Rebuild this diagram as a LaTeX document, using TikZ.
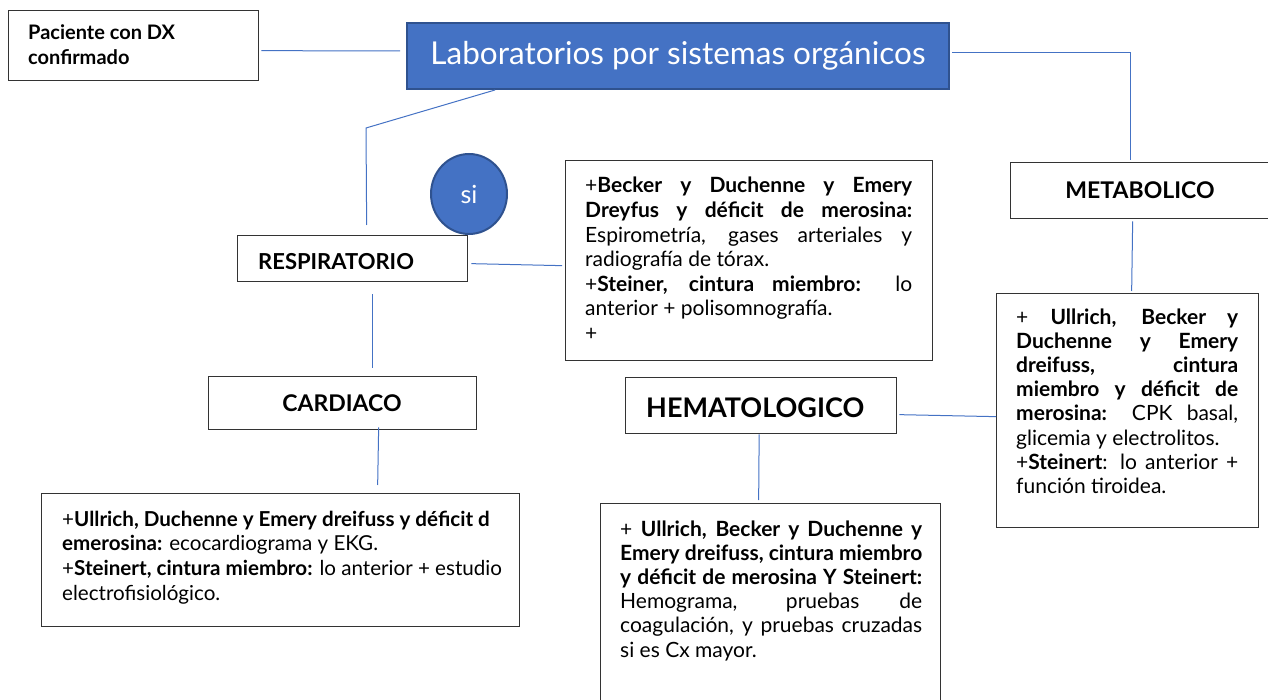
\documentclass[tikz,border=0pt]{standalone}
\usepackage{fontspec}
\usetikzlibrary{shapes.geometric}
\setmainfont{Lato}
\definecolor{lineblue}{HTML}{4472C4}
\definecolor{fillblue}{HTML}{4472C4}
\definecolor{edgeblue}{HTML}{2F528F}
\definecolor{boxedge}{HTML}{333333}
\begin{document}
\begin{tikzpicture}[x=1pt,y=-1pt,
  box/.style={draw=boxedge,line width=1.3pt,rectangle,inner sep=0pt,anchor=north west,fill=white},
  bluebox/.style={draw=edgeblue,line width=2pt,fill=fillblue,rectangle,inner sep=0pt,anchor=north west},
  conn/.style={draw=lineblue,line width=1pt},
  lbl/.style={inner sep=0pt,font=\bfseries},
  body/.style={inner sep=0pt,anchor=base west}
]
\useasboundingbox (0,0) rectangle (1268,700);
% boxes
\node[box,minimum width=250pt,minimum height=70pt] (pac) at (8,10) {};
\node[body] (pactxt) at (28,40) {\parbox[t]{220pt}{\fontsize{20}{25}\selectfont\bfseries Paciente con DX\\ confirmado}};
\node[bluebox,minimum width=542pt,minimum height=66pt] (title) at (406,22) {};
\node[inner sep=0pt,text=white,font=\fontsize{31.5}{34}\selectfont] (titletxt) at (title.center) {Laboratorios por sistemas orgánicos};
\node[draw=edgeblue,line width=2pt,fill=fillblue,ellipse,minimum width=76pt,minimum height=80pt,inner sep=0pt,text=white,font=\fontsize{25}{28}\selectfont] (si) at (469,194) {si};
% respiratorio
\node[box,minimum width=230pt,minimum height=46pt] (resp) at (237,235) {};
\node[lbl,anchor=base west,font=\fontsize{22}{26}\selectfont\bfseries] (resptxt) at (258,270) {RESPIRATORIO};
\node[box,minimum width=367pt,minimum height=200pt] (rbox) at (565,160) {};
\node[body] (rboxtxt) at (585,193) {\parbox[t]{327pt}{\fontsize{21}{24.6}\selectfont
+\textbf{Becker y Duchenne y Emery}\linebreak
\textbf{Dreyfus y déficit de merosina:}\linebreak
Espirometría, gases arteriales y\linebreak
radiografía de tórax.\\
+\textbf{Steiner, cintura miembro:} lo\linebreak
anterior + polisomnografía.\\
+}};
% metabolico
\node[box,minimum width=262pt,minimum height=56pt] (metab) at (1010,162) {};
\node[lbl,anchor=base,font=\fontsize{23}{26}\selectfont\bfseries] (metabtxt) at (1140,199) {METABOLICO};
\node[box,minimum width=262pt,minimum height=234pt] (mbox) at (996,293) {};
\node[body] (mboxtxt) at (1016,324) {\parbox[t]{222pt}{\fontsize{21}{24.2}\selectfont
+ \textbf{Ullrich, Becker y}\linebreak
\textbf{Duchenne y Emery}\linebreak
\textbf{dreifuss, cintura}\linebreak
\textbf{miembro y déficit de}\linebreak
\textbf{merosina:} CPK basal,\linebreak
glicemia y electrolitos.\\
+\textbf{Steinert}: lo anterior +\linebreak
función tiroidea.}};
% cardiaco
\node[box,minimum width=268pt,minimum height=53pt] (card) at (208,376) {};
\node[lbl,anchor=base,font=\fontsize{23}{26}\selectfont\bfseries] (cardtxt) at (342,411) {CARDIACO};
\node[box,minimum width=478pt,minimum height=133pt] (cbox) at (41,493) {};
\node[body] (cboxtxt) at (62,526) {\parbox[t]{450pt}{\raggedright\fontsize{20.6}{24.8}\selectfont
+\textbf{Ullrich, Duchenne y Emery dreifuss y déficit d}\\
\textbf{emerosina:} ecocardiograma y EKG.\\
+\textbf{Steinert, cintura miembro:} lo anterior + estudio\\
electrofisiológico.}};
% hematologico
\node[box,minimum width=271pt,minimum height=56pt] (hema) at (625,377) {};
\node[lbl,anchor=base west,font=\fontsize{27}{30}\selectfont\bfseries] (hematxt) at (646,417) {HEMATOLOGICO};
\node[box,minimum width=340pt,minimum height=220pt] (hbox) at (600,503) {};
\node[body] (hboxtxt) at (620,536) {\parbox[t]{302pt}{\fontsize{21}{24.2}\selectfont
+ \textbf{Ullrich, Becker y Duchenne y}\linebreak
\textbf{Emery dreifuss, cintura miembro}\linebreak
\textbf{y déficit de merosina Y Steinert:}\linebreak
Hemograma, pruebas de\linebreak
coagulación, y pruebas cruzadas\linebreak
si es Cx mayor.}};
% connectors
\coordinate (rbend) at (366,128);
\draw[conn] ([shift={(2,5)}]pac.east) -- ([shift={(-6,-5)}]title.west);
\draw[conn] ([shift={(2,-3)}]title.east) -| ([shift={(-11,-2)}]metab.north);
\draw[conn] ([shift={(-183,0)}]title.south) -- (rbend) -- ([shift={(14,-10)}]resp.north);
\draw[conn] ([shift={(3,5)}]resp.east) -- ([shift={(-3,5)}]rbox.west);
\draw[conn] ([shift={(20,12)}]resp.south) -- ([shift={(30,-8)}]card.north);
\draw[conn] ([shift={(36,-3)}]card.south) -- ([shift={(97,-8)}]cbox.north);
\draw[conn] ([shift={(-9,2)}]metab.south) -- ([shift={(4,-2)}]mbox.north);
\draw[conn] ([shift={(2,9)}]hema.east) -- ([shift={(0,6)}]mbox.west);
\draw[conn] ([shift={(-2,0)}]hema.south) -- ([shift={(-12,-3)}]hbox.north);
\end{tikzpicture}
\end{document}
